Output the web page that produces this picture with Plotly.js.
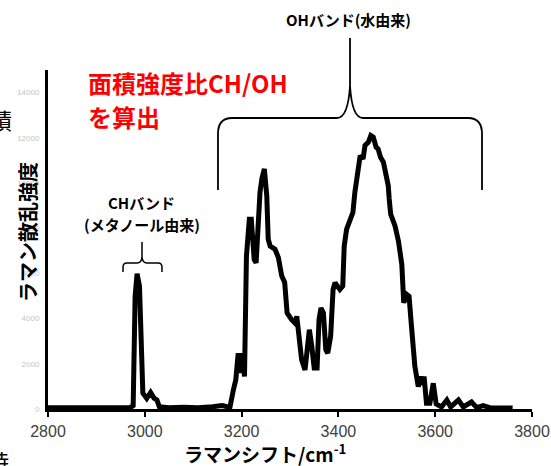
<!DOCTYPE html>
<html><head><meta charset="utf-8">
<script src="https://cdn.plot.ly/plotly-3.0.1.min.js"></script>
<style>html,body{margin:0;padding:0;background:#fff}#chart{width:551px;height:466px}</style>
</head><body><div id="chart"></div>
<script>
// Raman shift (cm^-1)
const wavenumber = [2800,2850,2900,2950,2970,2976,2980,2984,2989,2992,2996,3004,3012,3019,3025,3030,3050,3080,3110,3140,3160,3170,
3176,3183,3188,3193,3198,3202,3206,3210,3216,3220,3226,3230,3234,3238,3242,3247,3252,3255,3259,3269,3276,3283,3289,3294,
3303,3310,3314,3318,3324,3331,3336,3340,3345,3350,3356,3360,3364,3369,3374,3378,3384,3389,3393,3403,3409,3412,3417,3424,
3430,3434,3438,3445,3451,3455,3462,3467,3472,3478,3482,3487,3493,3498,3503,3505,3508,3517,3524,3531,3535,3541,3546,3551,
3558,3565,3570,3574,3577,3582,3589,3596,3602,3613,3624,3632,3648,3658,3675,3686,3699,3713,3754,3760];
// Raman scattering intensity
const intensity = [60,40,60,50,60,150,4990,5990,5440,2770,700,470,730,480,400,100,60,80,60,100,150,100,
90,840,1290,2470,1590,2470,1440,6770,8400,8400,6620,6470,8550,9590,10200,10620,9440,7510,7210,7070,6700,5880,5600,4250,
3960,3810,4100,3300,2180,1730,3070,3510,2770,1810,1810,3960,4470,4250,2620,2470,3220,5290,5590,5290,5440,7210,7960,8330,
8700,9590,10320,11210,11070,11660,11810,12100,12030,11580,11510,11140,10920,10470,9880,9290,8620,8100,7440,6400,4700,5070,4990,3660,
1880,990,1440,1070,1440,250,250,1140,220,90,400,90,400,90,310,60,150,60,40,40];
const xTickVals = [2800,3000,3200,3400,3600,3800];
const yTickVals = [0,2000,4000,6000,8000,10000,12000,14000];
const yTickText = yTickVals.map(String);
const xTitle = 'ラマンシフト/cm<sup>-1</sup>';
const yTitle = 'ラマン散乱強度';
const ohLabel = 'OHバンド(水由来)';
const chLabel1 = 'CHバンド';
const chLabel2 = '(メタノール由来)';
const redLine1 = '面積強度比CH/OH';
const redLine2 = 'を算出';

// layout geometry (pixels -> paper)
const W = 551, H = 466, L = 48, R = 19, T = 70, B = 57;
const PW = W - L - R, PH = H - T - B;
const px = v => ((v - L) / PW).toFixed(4);
const py = v => ((H - B - v) / PH).toFixed(4);
const pt = (a, b) => px(a) + ',' + py(b);

const ohBrace = 'M' + pt(218,190) + ' L' + pt(218,134) + ' Q' + pt(218,118) + ' ' + pt(232,118) +
  ' L' + pt(337,118) + ' Q' + pt(348,118) + ' ' + pt(350,86) + ' Q' + pt(352,118) + ' ' + pt(363,118) +
  ' L' + pt(468,118) + ' Q' + pt(482,118) + ' ' + pt(482,134) + ' L' + pt(482,190) +
  ' M' + pt(350,86) + ' L' + pt(350,38);
const chBrace = 'M' + pt(123,272) + ' L' + pt(123,267) + ' Q' + pt(123,263) + ' ' + pt(127,263) +
  ' L' + pt(137,263) + ' Q' + pt(141.5,263) + ' ' + pt(142,257) + ' Q' + pt(142.5,263) + ' ' + pt(147,263) +
  ' L' + pt(158,263) + ' Q' + pt(162,263) + ' ' + pt(162,267) + ' L' + pt(162,272) +
  ' M' + pt(142,257) + ' L' + pt(142,242);

const cjk = 'Noto Sans CJK JP, Noto Sans, sans-serif';
function ann(text, x, y, opts) {
  return Object.assign({text: text, x: +px(x), y: +py(y), xref: 'paper', yref: 'paper',
    showarrow: false, xanchor: 'center', yanchor: 'middle',
    font: {family: cjk, size: 15, color: '#000', weight: 'bold'}}, opts || {});
}

const data = [{
  x: wavenumber, y: intensity, type: 'scatter', mode: 'lines',
  line: {color: '#000', width: 5}, cliponaxis: false, hoverinfo: 'skip'
}];

const layout = {
  width: W, height: H,
  margin: {l: L, r: R, t: T, b: B, pad: 0},
  paper_bgcolor: '#fff', plot_bgcolor: '#fff',
  showlegend: false,
  xaxis: {
    range: [2800, 3800], tickvals: xTickVals, ticktext: xTickVals.map(String),
    ticks: 'outside', ticklen: 5, tickwidth: 2, tickcolor: '#000',
    showline: true, linewidth: 3, linecolor: '#000', mirror: false,
    showgrid: false, zeroline: false, ticklabelstandoff: 1,
    tickfont: {family: 'Liberation Sans, Arial, sans-serif', size: 16, color: '#404040'}
  },
  yaxis: {
    range: [0, 15000], tickvals: yTickVals, ticktext: yTickText,
    ticks: '', showline: true, linewidth: 3, linecolor: '#000',
    showgrid: false, zeroline: false, ticklabelstandoff: 4,
    tickfont: {family: 'Liberation Sans, Arial, sans-serif', size: 8, color: '#c4c4c4'}
  },
  shapes: [
    {type: 'path', path: ohBrace, xref: 'paper', yref: 'paper', line: {color: '#000', width: 1.8}},
    {type: 'path', path: chBrace, xref: 'paper', yref: 'paper', line: {color: '#000', width: 1.5}}
  ],
  annotations: [
    ann(redLine1, 86, 82, {xanchor: 'left', font: {family: cjk, size: 24, color: '#ff0000', weight: 'bold'}}),
    ann(redLine2, 86, 116, {xanchor: 'left', font: {family: cjk, size: 24, color: '#ff0000', weight: 'bold'}}),
    ann(ohLabel, 349, 20),
    ann(chLabel1, 142, 202),
    ann(chLabel2, 142, 225),
    ann(yTitle, 27, 232, {textangle: -90, font: {family: cjk, size: 20, color: '#000', weight: 'bold'}}),
    ann(xTitle, 265, 453, {font: {family: cjk, size: 19, color: '#000', weight: 'bold'}}),
    ann('積', 14, 119, {xanchor: 'right', font: {family: cjk, size: 22, color: '#000'}}),
    ann('時', 11, 460, {xanchor: 'right', font: {family: cjk, size: 22, color: '#000'}})
  ]
};

Plotly.newPlot('chart', data, layout, {displayModeBar: false, staticPlot: true});
</script>
</body></html>
